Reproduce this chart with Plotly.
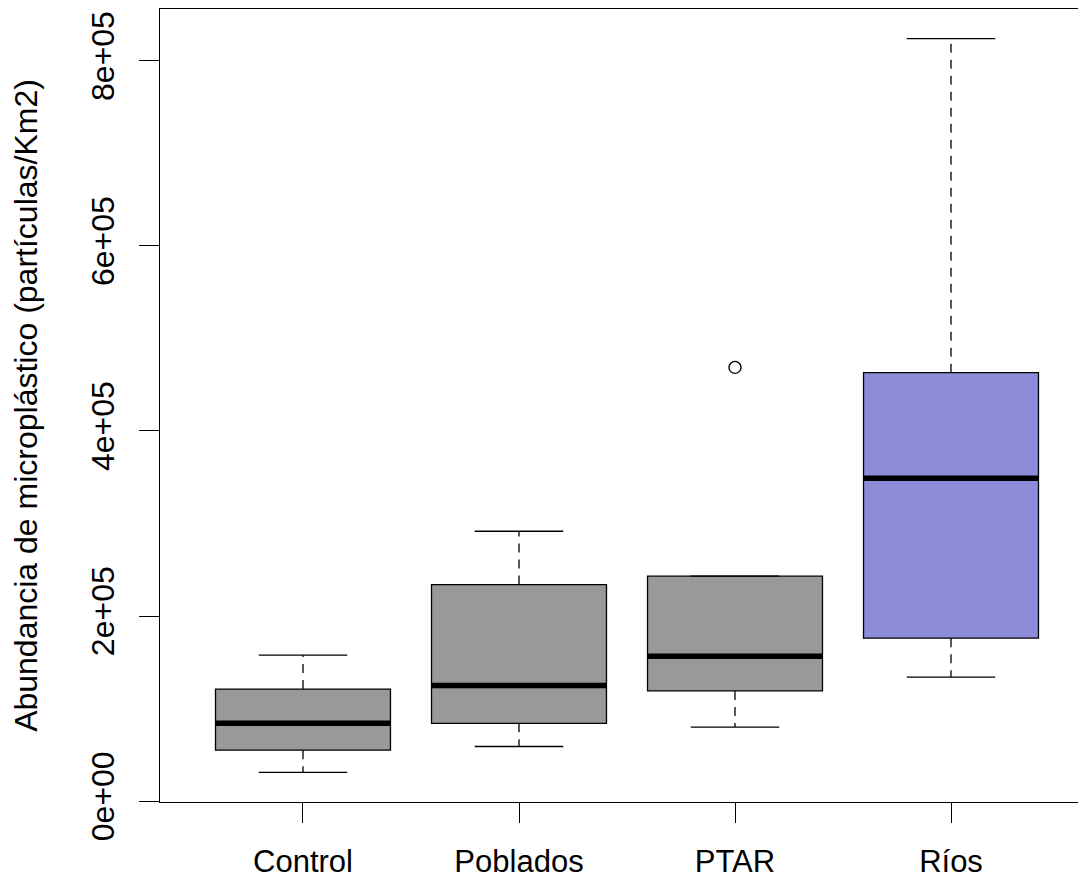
import plotly.graph_objects as go

categories = ["Control", "Poblados", "PTAR", "Ríos"]
lower_whisker = [31000, 59000, 80000, 134000]
q1_vals = [55000, 84000, 119000, 176000]
median_vals = [84000, 125000, 156600, 349000]
q3_vals = [121000, 234000, 243000, 463000]
upper_whisker = [157700, 291600, 243000, 824000]
outlier_group = [2]
outlier_vals = [468700]
fill_colors = ["#999999", "#999999", "#999999", "#8c8cd9"]

ytick_vals = [0, 200000, 400000, 600000, 800000]
ytick_text = ["0e+00", "2e+05", "4e+05", "6e+05", "8e+05"]

FONT = "Liberation Sans, Arial, sans-serif"
BOXW = 0.81
CAPW = 0.41

fig = go.Figure()
xs = list(range(len(categories)))

for i, c in enumerate(categories):
    fig.add_trace(go.Box(
        x=[i], q1=[q1_vals[i]], median=[median_vals[i]], q3=[q3_vals[i]],
        lowerfence=[q1_vals[i]], upperfence=[q3_vals[i]],
        fillcolor=fill_colors[i], line=dict(color="black", width=1.3),
        width=BOXW, boxpoints=False, showlegend=False, name=c, whiskerwidth=0,
    ))

# dashed whiskers
wx, wy = [], []
for i in xs:
    wx += [i, i, None, i, i, None]
    wy += [q3_vals[i], upper_whisker[i], None, q1_vals[i], lower_whisker[i], None]
fig.add_trace(go.Scatter(x=wx, y=wy, mode="lines", showlegend=False,
                         line=dict(color="black", width=1.3, dash="9px,7px")))

# caps
cx, cy = [], []
for i in xs:
    for v in (upper_whisker[i], lower_whisker[i]):
        cx += [i - CAPW / 2, i + CAPW / 2, None]
        cy += [v, v, None]
fig.add_trace(go.Scatter(x=cx, y=cy, mode="lines", showlegend=False,
                         line=dict(color="black", width=1.3)))

# medians
mx, my = [], []
for i in xs:
    mx += [i - BOXW / 2, i + BOXW / 2, None]
    my += [median_vals[i], median_vals[i], None]
fig.add_trace(go.Scatter(x=mx, y=my, mode="lines", showlegend=False,
                         line=dict(color="black", width=5.5)))

# outliers
fig.add_trace(go.Scatter(x=outlier_group, y=outlier_vals, mode="markers", showlegend=False,
                         marker=dict(symbol="circle-open", size=12, color="black",
                                     line=dict(width=1.4, color="black"))))

fig.update_layout(
    width=1078, height=871,
    margin=dict(l=152, r=0, t=1, b=77),
    paper_bgcolor="white", plot_bgcolor="white",
    font=dict(family=FONT, size=31, color="black"),
    xaxis=dict(range=[-0.662, 3.625], tickvals=xs, ticktext=categories,
               showline=True, linecolor="black", linewidth=1.3, mirror=True,
               ticks="outside", ticklen=20, tickwidth=1.3, tickcolor="black",
               showgrid=False, zeroline=False, ticklabelstandoff=12,
               tickfont=dict(size=31)),
    yaxis=dict(range=[-1000, 856000], tickvals=ytick_vals, ticktext=ytick_text,
               tickangle=-90, showline=True, linecolor="black", linewidth=1.3,
               ticks="outside", ticklen=20, tickwidth=1.3, tickcolor="black",
               showgrid=False, zeroline=False, ticklabelstandoff=12,
               tickfont=dict(size=32),
               title=dict(text="Abundancia de micropl\u00e1stico (part\u00edculas/Km2)",
                          font=dict(size=32), standoff=40)),
)

fig.write_html("out.html")
